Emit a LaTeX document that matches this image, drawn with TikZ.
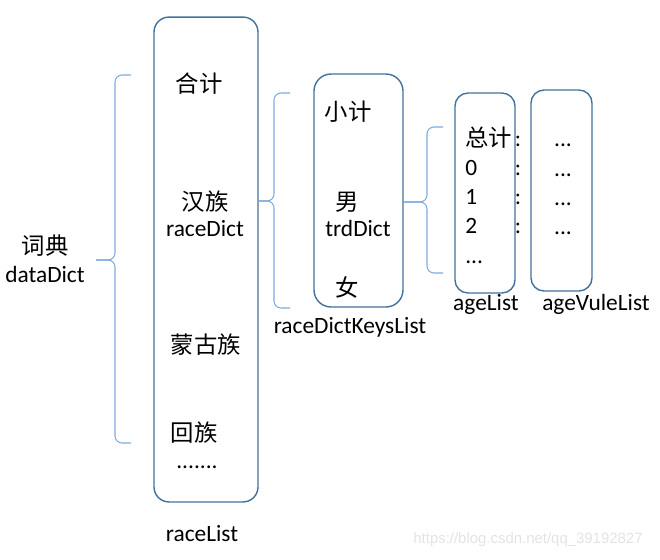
\documentclass[tikz,border=0pt]{standalone}
\usepackage{fontspec}
\setmainfont{Carlito}
\newfontfamily\cjk{Noto Sans CJK SC}
\newfontfamily\wmfont{Liberation Sans}
\definecolor{boxblue}{HTML}{41719C}
\definecolor{braceblue}{HTML}{7FAADC}
\tikzset{
	listbox/.style={draw=boxblue, line width=0.8pt, rounded corners=0.3cm, inner sep=0pt},
	brace/.style={draw=braceblue, line width=0.6pt, rounded corners=0.14cm},
	txt/.style={font=\fontsize{13.3}{16}\selectfont, inner sep=0pt},
	zh/.style={font=\fontsize{13.3}{16}\selectfont\cjk, inner sep=0pt},
}
\begin{document}
\begin{tikzpicture}[x=0.02cm, y=-0.02cm]
		\useasboundingbox (0,0) rectangle (660,559);
		
		\node[listbox, minimum width=2.08cm, minimum height=9.7cm] (race) at (206,259.5) {};
		\node[listbox, minimum width=1.78cm, minimum height=4.66cm, rounded corners=0.34cm] (trd) at (358.5,190.5) {};
		\node[listbox, minimum width=1.2cm, minimum height=4.0cm, rounded corners=0.26cm] (age) at (485,193) {};
		\node[listbox, minimum width=1.22cm, minimum height=4.02cm, rounded corners=0.26cm] (val) at (561.5,190.5) {};
		
		\node[zh] (cidian) at (45,246) {词典};
		\node[txt] (dataDict) at (45,274) {dataDict};
		\draw[brace] (131,75) -- (115,75) -- (115,260) -- (96,260);
		\draw[brace] (96,260) -- (115,260) -- (115,443) -- (131,443);
		
		\node[zh] (heji) at (199,84) {合计};
		\node[zh] (han) at (205,202) {汉族};
		\node[txt] (raceDict) at (205,229) {raceDict};
		\node[zh] (menggu) at (206,345) {蒙古族};
		\node[zh] (hui) at (194,433) {回族};
		\node[txt, anchor=base] (more) at (197,468) {.......};
		\node[txt, anchor=base] (raceListLbl) at (202,541) {raceList};
		
		\draw[brace] (290,93) -- (274,93) -- (274,201) -- (race.east |- 0,201);
		\draw[brace] (race.east |- 0,201) -- (274,201) -- (274,308) -- (290,308);
		
		\node[zh] (xiaoji) at (348,112) {小计};
		\node[zh] (nan) at (347,202) {男};
		\node[txt] (trdDict) at (358,228) {trdDict};
		\node[zh] (nv) at (347,287) {女};
		\node[txt, anchor=base] (keysLbl) at (350,333) {raceDictKeysList};
		
		\draw[brace] (443,127) -- (427,127) -- (427,202) -- (trd.east |- 0,202);
		\draw[brace] (trd.east |- 0,202) -- (427,202) -- (427,273) -- (443,273);
		
		\node[zh, anchor=base west] (zongji) at (465,146) {总计};
		\node[txt, anchor=base west] (a0) at (465,175) {0};
		\node[txt, anchor=base west] (a1) at (465,204) {1};
		\node[txt, anchor=base west] (a2) at (465,233) {2};
		\node[txt, anchor=base west] (adots) at (465,263) {...};
		\node[txt, anchor=base] (c0) at (518,146) {:};
		\node[txt, anchor=base] (c1) at (518,175) {:};
		\node[txt, anchor=base] (c2) at (518,204) {:};
		\node[txt, anchor=base] (c3) at (518,233) {:};
		\node[txt, anchor=base] (v0) at (563,146) {...};
		\node[txt, anchor=base] (v1) at (563,176) {...};
		\node[txt, anchor=base] (v2) at (563,205) {...};
		\node[txt, anchor=base] (v3) at (563,234) {...};
		\node[txt, anchor=base] (ageLbl) at (486,310) {ageList};
		\node[txt, anchor=base] (valLbl) at (596,310) {ageVuleList};
		
		\node[font=\fontsize{8.5}{10}\selectfont\wmfont, text=gray!22, inner sep=0pt] (mark) at (528,540) {https://blog.csdn.net/qq\_39192827};
	\end{tikzpicture}
\end{document}
